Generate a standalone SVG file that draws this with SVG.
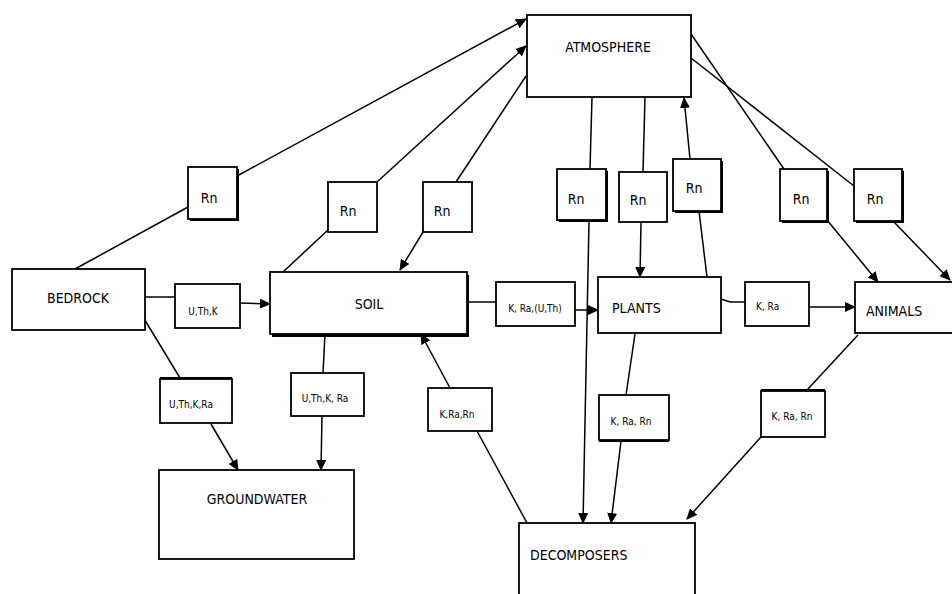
<svg xmlns="http://www.w3.org/2000/svg" width="952" height="594" viewBox="0 0 952 594">
<style>
.box{fill:#fff;stroke:#000;stroke-width:1.8}
.sh{fill:#000}
.big{font-family:"Liberation Sans Narrow","DejaVu Sans Condensed","Liberation Sans",sans-serif;font-size:14px;fill:#000}
.sm{font-family:"Liberation Sans Narrow","DejaVu Sans Condensed","Liberation Sans",sans-serif;font-size:10px;fill:#000}
.rn{font-family:"Liberation Sans Narrow","DejaVu Sans Condensed","Liberation Sans",sans-serif;font-size:14px;fill:#000}
.c{fill:none;stroke:#000;stroke-width:1.5}
.a{marker-end:url(#ah)}
</style>
<defs>
<marker id="ah" markerUnits="userSpaceOnUse" markerWidth="11" markerHeight="10" refX="10" refY="5" orient="auto">
<path d="M0,0 L11,5 L0,10 Z" fill="#000"/>
</marker>
</defs>
<rect width="952" height="594" fill="#fff"/>
<g id="connectors">
<line class="c" x1="75" y1="269" x2="188" y2="207"/>
<line class="c a" x1="237" y1="176" x2="526" y2="19"/>
<line class="c" x1="283" y1="272" x2="328" y2="230"/>
<line class="c a" x1="377" y1="182" x2="526" y2="46"/>
<line class="c" x1="526" y1="76" x2="456" y2="182"/>
<line class="c a" x1="423" y1="232" x2="400" y2="270"/>
<line class="c" x1="592" y1="97" x2="590" y2="169"/>
<line class="c a" x1="589" y1="221" x2="583" y2="523"/>
<line class="c" x1="645" y1="97" x2="643" y2="172"/>
<line class="c a" x1="641" y1="222" x2="640" y2="277"/>
<line class="c" x1="707" y1="277" x2="699" y2="211"/>
<line class="c a" x1="690" y1="159" x2="684" y2="98"/>
<line class="c" x1="691" y1="34" x2="784" y2="169"/>
<line class="c a" x1="827" y1="220" x2="878" y2="282"/>
<line class="c" x1="691" y1="58" x2="854" y2="186"/>
<line class="c a" x1="893" y1="221" x2="950" y2="280"/>
<line class="c" x1="145" y1="297" x2="175" y2="297"/>
<line class="c a" x1="240" y1="303" x2="270" y2="304"/>
<line class="c" x1="143" y1="317" x2="180" y2="378"/>
<line class="c a" x1="211" y1="424" x2="238" y2="470"/>
<line class="c" x1="325" y1="334" x2="323" y2="373"/>
<line class="c a" x1="322" y1="416" x2="321" y2="470"/>
<line class="c" x1="527" y1="523" x2="477" y2="431"/>
<line class="c a" x1="450" y1="388" x2="421" y2="334"/>
<line class="c" x1="467" y1="302" x2="496" y2="302"/>
<line class="c a" x1="575" y1="310" x2="598" y2="310"/>
<line class="c" x1="721" y1="299" x2="730" y2="302"/>
<line class="c" x1="730" y1="302" x2="745" y2="302"/>
<line class="c a" x1="809" y1="307" x2="855" y2="307"/>
<line class="c" x1="635" y1="334" x2="626" y2="395"/>
<line class="c a" x1="621" y1="441" x2="611" y2="523"/>
<line class="c" x1="858" y1="335" x2="807" y2="390"/>
<line class="c a" x1="761" y1="437" x2="687" y2="519"/>
</g>
<g id="atmosphere"><rect class="box" x="527" y="15" width="164" height="82"/><text class="big" x="608" y="52" text-anchor="middle">ATMOSPHERE</text></g>
<g id="bedrock"><rect class="box" x="12" y="269" width="133" height="61"/><text class="big" x="78" y="303" text-anchor="middle">BEDROCK</text></g>
<g id="soil"><rect class="sh" x="272" y="275" width="197" height="62"/><rect class="box" x="270" y="272" width="197" height="62"/><text class="big" x="369" y="309" text-anchor="middle">SOIL</text></g>
<g id="plants"><rect class="box" x="598" y="277" width="123" height="56"/><text class="big" x="612" y="313">PLANTS</text></g>
<g id="animals"><rect class="box" x="855" y="282" width="98" height="51"/><text class="big" x="866" y="316">ANIMALS</text></g>
<g id="groundwater"><rect class="box" x="159" y="470" width="195" height="89"/><text class="big" x="257" y="504" text-anchor="middle">GROUNDWATER</text></g>
<g id="decomposers"><rect class="box" x="519" y="523" width="176" height="80"/><text class="big" x="530" y="560">DECOMPOSERS</text></g>
<g id="l-uthk"><rect class="box" x="175" y="284" width="65" height="44"/><text class="sm" x="203" y="315" text-anchor="middle">U,Th,K</text></g>
<g id="l-uthkra-1"><rect class="sh" x="160" y="377" width="72" height="4"/><rect class="box" x="160" y="379" width="72" height="44"/><text class="sm" x="191" y="408" text-anchor="middle">U,Th,K,Ra</text></g>
<g id="l-uthkra-2"><rect class="box" x="291" y="373" width="73" height="43"/><text class="sm" x="325" y="402" text-anchor="middle">U,Th,K, Ra</text></g>
<g id="l-krarn-1"><rect class="box" x="428" y="388" width="64" height="43"/><text class="sm" x="457" y="418" text-anchor="middle">K,Ra,Rn</text></g>
<g id="l-kra-uth"><rect class="box" x="496" y="282" width="79" height="44"/><text class="sm" x="535" y="312" text-anchor="middle">K, Ra,(U,Th)</text></g>
<g id="l-kra"><rect class="box" x="745" y="282" width="64" height="44"/><text class="sm" x="756" y="310">K, Ra</text></g>
<g id="l-krarn-2"><rect class="sh" x="599" y="438" width="70" height="4"/><rect class="box" x="599" y="395" width="70" height="45"/><text class="sm" x="631" y="425" text-anchor="middle">K, Ra, Rn</text></g>
<g id="l-krarn-3"><rect class="sh" x="761" y="389" width="64" height="4"/><rect class="box" x="761" y="391" width="64" height="46"/><text class="sm" x="792" y="420" text-anchor="middle">K, Ra, Rn</text></g>
<g id="rn1"><rect class="sh" x="190" y="169" width="49" height="52"/><rect class="box" x="188" y="167" width="49" height="52"/><text class="rn" x="209" y="203" text-anchor="middle">Rn</text></g>
<g id="rn2"><rect class="box" x="328" y="182" width="49" height="50"/><text class="rn" x="348" y="216" text-anchor="middle">Rn</text></g>
<g id="rn3"><rect class="box" x="423" y="182" width="49" height="50"/><text class="rn" x="442" y="216" text-anchor="middle">Rn</text></g>
<g id="rn4"><rect class="sh" x="559" y="171" width="49" height="51"/><rect class="box" x="557" y="169" width="49" height="51"/><text class="rn" x="576" y="204" text-anchor="middle">Rn</text></g>
<g id="rn5"><rect class="box" x="619" y="172" width="48" height="50"/><text class="rn" x="638" y="205" text-anchor="middle">Rn</text></g>
<g id="rn6"><rect class="sh" x="675" y="161" width="48" height="52"/><rect class="box" x="673" y="159" width="48" height="52"/><text class="rn" x="694" y="193" text-anchor="middle">Rn</text></g>
<g id="rn7"><rect class="sh" x="782" y="171" width="47" height="52"/><rect class="box" x="780" y="169" width="47" height="52"/><text class="rn" x="801" y="204" text-anchor="middle">Rn</text></g>
<g id="rn8"><rect class="sh" x="856" y="171" width="48" height="52"/><rect class="box" x="854" y="169" width="48" height="52"/><text class="rn" x="875" y="204" text-anchor="middle">Rn</text></g>
</svg>
